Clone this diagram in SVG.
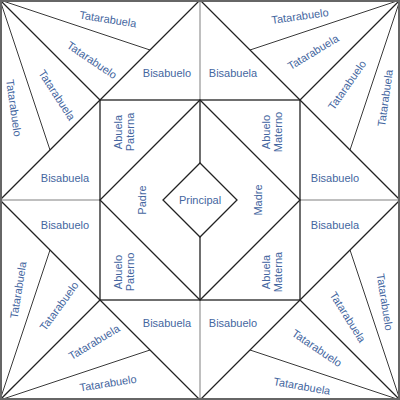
<svg xmlns="http://www.w3.org/2000/svg" width="400" height="400" viewBox="0 0 400 400">
<style>
.t{font-family:"Liberation Sans",Arial,sans-serif;font-size:11px;fill:#4466a0;text-anchor:middle;dominant-baseline:central}
.k{stroke:#222;stroke-width:1.3;fill:none}
.th{stroke:#222;stroke-width:0.9;fill:none}
.g{stroke:#aaa;stroke-width:1.5;fill:none}
</style>
<rect x="0" y="0" width="400" height="400" fill="#fff"/>
<g id="connectors">
<path class="g" d="M200 0V100M200 300V400M0 200H100M300 200H400"/>
<path class="k" d="M200 0L0 200M200 0L400 200M0 200L200 400M400 200L200 400"/>
<path class="k" d="M0 0L100 100M400 0L300 100M0 400L100 300M400 400L300 300"/>
<path class="th" d="M0 0L150 50M0 0L50 150M400 0L250 50M400 0L350 150M0 400L50 250M0 400L150 350M400 400L350 250M400 400L250 350"/>
<rect class="k" x="100" y="100" width="200" height="200"/>
<path class="k" d="M200 100L300 200L200 300L100 200Z"/>
<path class="k" d="M200 100V163M200 237V300"/>
</g>
<rect x="1" y="1" width="398" height="398" fill="none" stroke="#666" stroke-width="2"/>
<g id="principal"><path class="k" d="M200 163L237 200L200 237L163 200Z"/><text class="t" x="200" y="200">Principal</text></g>
<g id="padre"><text class="t" transform="translate(142 200) rotate(-90)">Padre</text></g>
<g id="madre"><text class="t" transform="translate(258 200) rotate(-90)">Madre</text></g>
<g id="abuela-paterna"><text class="t" transform="translate(124 132) rotate(-90)"><tspan x="0" dy="-6">Abuela</tspan><tspan x="0" dy="12">Paterna</tspan></text></g>
<g id="abuelo-materno"><text class="t" transform="translate(272 132) rotate(-90)"><tspan x="0" dy="-6">Abuelo</tspan><tspan x="0" dy="12">Materno</tspan></text></g>
<g id="abuelo-paterno"><text class="t" transform="translate(124 272) rotate(-90)"><tspan x="0" dy="-6">Abuelo</tspan><tspan x="0" dy="12">Paterno</tspan></text></g>
<g id="abuela-materna"><text class="t" transform="translate(272 272) rotate(-90)"><tspan x="0" dy="-6">Abuela</tspan><tspan x="0" dy="12">Materna</tspan></text></g>
<g id="bis-tl1"><text class="t" x="167" y="73">Bisabuelo</text></g>
<g id="bis-tl2"><text class="t" x="65" y="178">Bisabuela</text></g>
<g id="bis-tr1"><text class="t" x="233" y="73">Bisabuela</text></g>
<g id="bis-tr2"><text class="t" x="335" y="178">Bisabuelo</text></g>
<g id="bis-bl1"><text class="t" x="65" y="225">Bisabuelo</text></g>
<g id="bis-bl2"><text class="t" x="167" y="323">Bisabuela</text></g>
<g id="bis-br1"><text class="t" x="335" y="225">Bisabuela</text></g>
<g id="bis-br2"><text class="t" x="233" y="323">Bisabuelo</text></g>
<g id="tat-tl1"><text class="t" transform="translate(108 19) rotate(9)">Tatarabuela</text></g>
<g id="tat-tl2"><text class="t" transform="translate(92 60) rotate(34)">Tatarabuelo</text></g>
<g id="tat-tl3"><text class="t" transform="translate(57 95) rotate(57)">Tatarabuela</text></g>
<g id="tat-tl4"><text class="t" transform="translate(14 108) rotate(82)">Tatarabuelo</text></g>
<g id="tat-tr1"><text class="t" transform="translate(300 16) rotate(-8)">Tatarabuelo</text></g>
<g id="tat-tr2"><text class="t" transform="translate(313 52) rotate(-31)">Tatarabuela</text></g>
<g id="tat-tr3"><text class="t" transform="translate(347 85) rotate(-55)">Tatarabuelo</text></g>
<g id="tat-tr4"><text class="t" transform="translate(385 98) rotate(-82)">Tatarabuela</text></g>
<g id="tat-bl1"><text class="t" transform="translate(18 290) rotate(-81)">Tatarabuela</text></g>
<g id="tat-bl2"><text class="t" transform="translate(59 306) rotate(-54)">Tatarabuelo</text></g>
<g id="tat-bl3"><text class="t" transform="translate(94 342) rotate(-31)">Tatarabuela</text></g>
<g id="tat-bl4"><text class="t" transform="translate(108 383) rotate(-9)">Tatarabuelo</text></g>
<g id="tat-br1"><text class="t" transform="translate(385 302) rotate(81)">Tatarabuelo</text></g>
<g id="tat-br2"><text class="t" transform="translate(348 317) rotate(58)">Tatarabuela</text></g>
<g id="tat-br3"><text class="t" transform="translate(317 348) rotate(34)">Tatarabuelo</text></g>
<g id="tat-br4"><text class="t" transform="translate(302 386) rotate(10)">Tatarabuela</text></g>
</svg>
